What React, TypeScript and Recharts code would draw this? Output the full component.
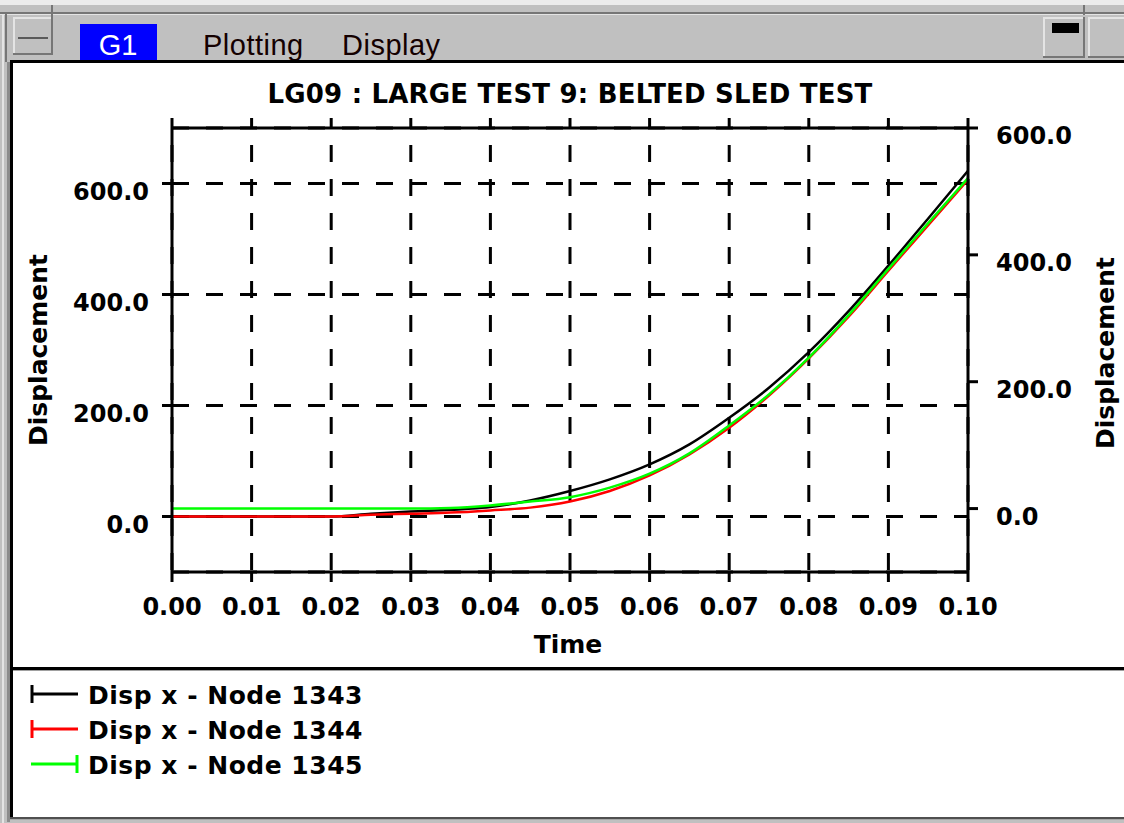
import React from 'react';
import { LineChart, Line, XAxis, YAxis, CartesianGrid, Legend } from 'recharts';

// ---------- data ----------
const timeValues = [0, 0.005, 0.01, 0.015, 0.02, 0.025, 0.03, 0.035, 0.04, 0.045, 0.05, 0.055, 0.06, 0.065, 0.07, 0.075, 0.08, 0.085, 0.09, 0.095, 0.1];
const node1343 = [0, 0, 0, 0, 0, 5, 9, 12, 17, 29, 46, 67, 94, 130, 178, 232, 296, 370, 452, 537, 623];
const node1344 = [0, 0, 0, 0, 0, 3, 5, 7, 11, 16, 27, 46, 74, 112, 160, 218, 285, 360, 443, 525, 607];
const node1345 = [0, 0, 0, 0, 0, 0, 0, 1, 5, 11, 18, 33, 55, 87, 131, 180, 238, 305, 378, 450, 521];
const xTicks = [0, 0.01, 0.02, 0.03, 0.04, 0.05, 0.06, 0.07, 0.08, 0.09, 0.1];
const leftTicks = [0, 200, 400, 600];
const rightTicks = [0, 200, 400, 600];
const leftDomain = [-100, 700];
const rightDomain = [-100, 600];
const seriesNames = ['Disp x - Node 1343', 'Disp x - Node 1344', 'Disp x - Node 1345'];
const seriesColors = ['#000000', '#ff0000', '#00ff00'];
const chartTitle = 'LG09 : LARGE TEST 9: BELTED SLED TEST';
const xLabel = 'Time';
const yLabel = 'Displacement';
const menuItems = ['Plotting', 'Display'];

const data = timeValues.map((t, i) => ({ t, n1343: node1343[i], n1344: node1344[i], n1345: node1345[i] }));

const series = [
  { key: 'n1343', name: seriesNames[0], color: seriesColors[0], axis: 'left', cap: 'start' },
  { key: 'n1344', name: seriesNames[1], color: seriesColors[1], axis: 'left', cap: 'start' },
  { key: 'n1345', name: seriesNames[2], color: seriesColors[2], axis: 'right', cap: 'end' },
];

const BOLD = '"DejaVu Sans", Verdana, sans-serif';
const MENU = '"Liberation Sans", Arial, Helvetica, sans-serif';

const LeftTick = (p: any) => (
  <text x={p.x - 11} y={p.y + 8} textAnchor="end" dominantBaseline="central" fontFamily={BOLD} fontWeight={700} fontSize={24} fill="#000">
    {Number(p.payload.value).toFixed(1)}
  </text>
);
const RightTick = (p: any) => (
  <text x={p.x + 16} y={p.y + 8} textAnchor="start" dominantBaseline="central" fontFamily={BOLD} fontWeight={700} fontSize={24} fill="#000">
    {Number(p.payload.value).toFixed(1)}
  </text>
);
const BottomTick = (p: any) => (
  <text x={p.x} y={p.y + 23} textAnchor="middle" dominantBaseline="central" fontFamily={BOLD} fontWeight={700} fontSize={24} fill="#000">
    {Number(p.payload.value).toFixed(2)}
  </text>
);
const NoTick = () => <g />;

const LeftLabel = (p: any) => {
  const vb = p.viewBox || { x: 0, y: 128, width: 172, height: 444 };
  const cx = vb.x + 47;
  const cy = vb.y + vb.height / 2;
  return (
    <text x={cx} y={cy} transform={`rotate(-90 ${cx} ${cy})`} textAnchor="middle" fontFamily={BOLD} fontWeight={700} fontSize={25} fill="#000">
      {yLabel}
    </text>
  );
};
const RightLabel = (p: any) => {
  const vb = p.viewBox || { x: 968, y: 128, width: 156, height: 444 };
  const cx = vb.x + 146;
  const cy = vb.y + vb.height / 2 + 3;
  return (
    <text x={cx} y={cy} transform={`rotate(-90 ${cx} ${cy})`} textAnchor="middle" fontFamily={BOLD} fontWeight={700} fontSize={25} fill="#000">
      {yLabel}
    </text>
  );
};
const BottomLabel = (p: any) => {
  const vb = p.viewBox || { x: 172, y: 572, width: 796, height: 60 };
  return (
    <text x={vb.x + vb.width / 2 - 2} y={vb.y + 81} textAnchor="middle" fontFamily={BOLD} fontWeight={700} fontSize={25} fill="#000">
      {xLabel}
    </text>
  );
};

const renderLegend = (props: any) => {
  const payload: any[] = props.payload || [];
  return (
    <svg width={420} height={110} style={{ display: 'block' }}>
      {payload.map((entry: any, i: number) => {
        const s = series.find((q) => q.key === entry.dataKey) || series[i];
        const cy = 14 + i * 35;
        const capX = s.cap === 'start' ? 32 : 77;
        return (
          <g key={s.key}>
            <line x1={31} y1={cy} x2={78} y2={cy} stroke={s.color} strokeWidth={3} />
            <line x1={capX} y1={cy - 9} x2={capX} y2={cy + 9} stroke={s.color} strokeWidth={3} />
            <text x={88} y={cy + 10} fontFamily={BOLD} fontWeight={700} fontSize={25} letterSpacing={0.5} fill="#000">
              {s.name}
            </text>
          </g>
        );
      })}
    </svg>
  );
};

const Frame = () => (
  <svg width={1124} height={823} style={{ position: 'absolute', left: 0, top: 0 }}>
    <rect x={0} y={0} width={1124} height={823} fill="#c0c0c0" />
    <rect x={0} y={0} width={1124} height={5} fill="#ececec" />
    {/* window top line */}
    <rect x={0} y={12} width={1124} height={2} fill="#767676" />
    <rect x={0} y={14} width={1124} height={1} fill="#e4e4e4" />
    {/* left strip */}
    <rect x={2} y={14} width={2} height={809} fill="#e4e4e4" />
    <rect x={7} y={62} width={3} height={760} fill="#8c8c8c" />
    {/* top-left button */}
    <rect x={5} y={14} width={2} height={48} fill="#767676" />
    <rect x={13} y={17} width={40} height={2} fill="#e4e4e4" />
    <rect x={13} y={17} width={2} height={38} fill="#e4e4e4" />
    <rect x={51} y={5} width={2} height={50} fill="#767676" />
    <rect x={13} y={53} width={40} height={2} fill="#767676" />
    <rect x={18} y={37} width={30} height={2} fill="#5a5a5a" />
    {/* G1 menu */}
    <rect x={80} y={24} width={77} height={38} fill="#0000ff" />
    <text x={118} y={55} textAnchor="middle" fontFamily={MENU} fontSize={29} fill="#ffffff">G1</text>
    <text x={203} y={55} fontFamily={MENU} fontSize={29} letterSpacing={0.5} fill="#140000">{menuItems[0]}</text>
    <text x={342} y={55} fontFamily={MENU} fontSize={29} letterSpacing={0.5} fill="#140000">{menuItems[1]}</text>
    {/* right buttons */}
    <rect x={1043} y={17} width={42} height={2} fill="#e4e4e4" />
    <rect x={1043} y={17} width={2} height={41} fill="#e4e4e4" />
    <rect x={1083} y={17} width={2} height={41} fill="#767676" />
    <rect x={1043} y={56} width={42} height={2} fill="#767676" />
    <rect x={1052} y={23} width={27} height={10} fill="#000000" />
    <rect x={1083} y={5} width={2} height={10} fill="#767676" />
    <rect x={1088} y={17} width={36} height={2} fill="#e4e4e4" />
    <rect x={1088} y={17} width={2} height={41} fill="#e4e4e4" />
    <rect x={1088} y={56} width={36} height={2} fill="#767676" />
    {/* white pane */}
    <rect x={13} y={63} width={1111} height={754} fill="#ffffff" />
    <rect x={10} y={60} width={1114} height={3} fill="#000000" />
    <rect x={10} y={60} width={3} height={759} fill="#000000" />
    <rect x={13} y={667} width={1111} height={3} fill="#000000" />
    <rect x={13} y={670} width={1111} height={1} fill="#a0a0a0" />
    <rect x={10} y={817} width={1114} height={2} fill="#505050" />
    <rect x={10} y={819} width={1114} height={1} fill="#a8a8a8" />
    {/* title */}
    <text x={570} y={103} textAnchor="middle" fontFamily={BOLD} fontWeight={700} fontSize={26} letterSpacing={0.2} fill="#000">
      {chartTitle}
    </text>
  </svg>
);

export default function App() {
  return (
    <div style={{ position: 'absolute', left: 0, top: 0, width: 1124, height: 823, overflow: 'hidden' }}>
      <Frame />
      <div style={{ position: 'absolute', left: 0, top: 0 }}>
        <LineChart width={1124} height={823} data={data} margin={{ top: 108, right: 0, bottom: 191, left: 0 }}>
          <CartesianGrid xAxisId="bottom" yAxisId="left" vertical={false} stroke="#000" strokeWidth={3} strokeDasharray="17 17" />
          <CartesianGrid xAxisId="bottom" yAxisId="left" horizontal={false} stroke="#000" strokeWidth={3} strokeDasharray="0 17 17 0" />
          <XAxis
            xAxisId="bottom"
            orientation="bottom"
            type="number"
            dataKey="t"
            domain={[0, 0.1]}
            ticks={xTicks}
            height={60}
            tickSize={10}
            tickMargin={2}
            tick={BottomTick}
            axisLine={{ stroke: '#000', strokeWidth: 3 }}
            tickLine={{ stroke: '#000', strokeWidth: 3 }}
            label={<BottomLabel />}
            interval={0}
          />
          <XAxis
            xAxisId="top"
            orientation="top"
            type="number"
            dataKey="t"
            domain={[0, 0.1]}
            ticks={xTicks}
            height={20}
            tickSize={10}
            tick={NoTick}
            axisLine={{ stroke: '#000', strokeWidth: 3 }}
            tickLine={{ stroke: '#000', strokeWidth: 3 }}
            interval={0}
          />
          <YAxis
            yAxisId="left"
            orientation="left"
            type="number"
            domain={leftDomain}
            ticks={leftTicks}
            width={172}
            tickSize={10}
            tickMargin={2}
            tick={LeftTick}
            axisLine={{ stroke: '#000', strokeWidth: 3 }}
            tickLine={{ stroke: '#000', strokeWidth: 3 }}
            label={<LeftLabel />}
            interval={0}
          />
          <YAxis
            yAxisId="right"
            orientation="right"
            type="number"
            domain={rightDomain}
            ticks={rightTicks}
            width={156}
            tickSize={10}
            tickMargin={2}
            tick={RightTick}
            axisLine={{ stroke: '#000', strokeWidth: 3 }}
            tickLine={{ stroke: '#000', strokeWidth: 3 }}
            label={<RightLabel />}
            interval={0}
          />
          {series.map((s) => (
            <Line
              key={s.key}
              xAxisId="bottom"
              yAxisId={s.axis}
              type="monotone"
              dataKey={s.key}
              name={s.name}
              stroke={s.color}
              strokeWidth={2.5}
              dot={false}
              activeDot={false}
              isAnimationActive={false}
            />
          ))}
          <Legend
            layout="horizontal"
            verticalAlign="middle"
            align="center"
            wrapperStyle={{ position: 'absolute', left: 0, top: 680, width: 420, height: 110 }}
            content={renderLegend}
          />
        </LineChart>
      </div>
    </div>
  );
}
